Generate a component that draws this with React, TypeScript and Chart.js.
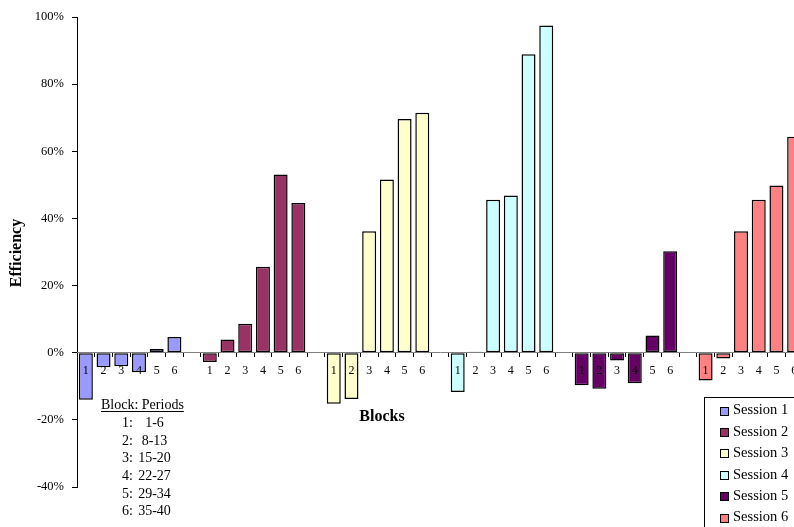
import React, { useEffect, useRef } from 'react';
import { Chart, registerables } from 'chart.js';

Chart.register(...registerables);

const blockLabels = ['1', '2', '3', '4', '5', '6'];
const sessionNames = ['Session 1', 'Session 2', 'Session 3', 'Session 4', 'Session 5', 'Session 6'];
const sessionColors = ['#9999FF', '#993366', '#FFFFCC', '#CCFFFF', '#660066', '#FF8080'];

// Efficiency (%) per block
const session1 = [-14.0, -4.3, -4.0, -5.8, 1.1, 4.7];
const session2 = [-2.8, 3.9, 8.6, 25.6, 53.1, 44.6];
const session3 = [-15.2, -13.8, 36.2, 51.6, 69.6, 71.5];
const session4 = [-11.7, 0.3, 45.6, 46.8, 88.9, 97.5];
const session5 = [-9.7, -10.7, -2.3, -9.1, 5.1, 30.2];
const session6 = [-8.3, -1.7, 36.2, 45.6, 49.8, 64.3];

const yTicks = [-40, -20, 0, 20, 40, 60, 80, 100];

const periodBlocks = ['1:', '2:', '3:', '4:', '5:', '6:'];
const periodRanges = ['1-6', '8-13', '15-20', '22-27', '29-34', '35-40'];

const FONT = "'Liberation Serif', 'Times New Roman', serif";

export default function App() {
  const canvasRef = useRef<HTMLCanvasElement | null>(null);

  useEffect(() => {
    const canvas = canvasRef.current;
    if (!canvas) return;
    const sessions = [session1, session2, session3, session4, session5, session6];
    const labels: string[] = [];
    sessions.forEach((_, s) => {
      blockLabels.forEach((b) => labels.push(b));
      if (s < sessions.length - 1) labels.push('');
    });
    const total = labels.length;
    const datasets = sessions.map((vals, s) => {
      const data: (number | null)[] = new Array(total).fill(null);
      vals.forEach((v, j) => {
        data[s * 7 + j] = v;
      });
      return {
        label: sessionNames[s],
        data,
        backgroundColor: sessionColors[s],
        borderColor: '#000000',
        borderWidth: 1.5,
        borderSkipped: false as const,
        grouped: false,
        barPercentage: 0.79,
        categoryPercentage: 1,
      };
    });

    const overlay = {
      id: 'overlay',
      afterDraw(chart: any) {
        const ctx = chart.ctx as CanvasRenderingContext2D;
        ctx.save();
        ctx.fillStyle = '#000';
        // Y title
        ctx.font = `bold 16px ${FONT}`;
        ctx.textAlign = 'center';
        ctx.textBaseline = 'middle';
        ctx.save();
        ctx.translate(17, 253);
        ctx.rotate(-Math.PI / 2);
        ctx.fillText('Efficiency', 0, 0);
        ctx.restore();
        // X title
        ctx.fillText('Blocks', 382, 417);

        // Block periods table
        ctx.font = `14px ${FONT}`;
        ctx.textAlign = 'left';
        ctx.fillText('Block: Periods', 101, 405);
        ctx.strokeStyle = '#000';
        ctx.lineWidth = 1;
        ctx.beginPath();
        const w = ctx.measureText('Block: Periods').width;
        ctx.moveTo(101, 411.5);
        ctx.lineTo(101 + w, 411.5);
        ctx.stroke();
        periodBlocks.forEach((b, i) => {
          const y = 423.5 + i * 17.6;
          ctx.textAlign = 'right';
          ctx.fillText(b, 133, y);
          ctx.textAlign = 'center';
          ctx.fillText(periodRanges[i], 154.5, y);
        });

        // Legend box
        ctx.fillStyle = '#fff';
        ctx.fillRect(704, 397, 120, 150);
        ctx.strokeStyle = '#000';
        ctx.strokeRect(704.5, 397.5, 120, 150);
        ctx.font = `14.5px ${FONT}`;
        ctx.textAlign = 'left';
        sessionNames.forEach((name, i) => {
          const y = 410.5 + i * 21.4;
          ctx.fillStyle = sessionColors[i];
          ctx.fillRect(720, Math.round(y) - 4, 9, 9);
          ctx.strokeStyle = '#000';
          ctx.strokeRect(720.5, Math.round(y) - 3.5, 8, 8);
          ctx.fillStyle = '#000';
          ctx.fillText(name, 733, y);
        });
        ctx.restore();
      },
    };

    const chart = new Chart(canvas, {
      type: 'bar',
      data: { labels, datasets },
      options: {
        responsive: false,
        animation: false,
        layout: { padding: { top: 17, bottom: 40, left: 0, right: 7 } },
        plugins: {
          legend: { display: false },
          tooltip: { enabled: false },
          title: { display: false },
        },
        scales: {
          x: {
            type: 'category',
            position: { y: 0 } as any,
            offset: true,
            grid: {
              offset: true,
              drawOnChartArea: false,
              drawTicks: true,
              tickLength: 4,
              tickColor: '#000000',
              z: 1,
            },
            border: { display: true, color: '#808080', width: 1, z: 1 },
            ticks: {
              autoSkip: false,
              maxRotation: 0,
              minRotation: 0,
              padding: 7,
              color: '#000000',
              z: 1,
              font: { family: FONT, size: 12 },
            },
          },
          y: {
            min: -40,
            max: 100,
            afterFit: (scale: any) => {
              scale.width = 77;
            },
            afterBuildTicks: (scale: any) => {
              scale.ticks = yTicks.map((v) => ({ value: v }));
            },
            grid: {
              drawOnChartArea: false,
              drawTicks: true,
              tickLength: 5,
              tickColor: '#000000',
            },
            border: { display: true, color: '#000000', width: 1 },
            ticks: {
              padding: 8,
              color: '#000000',
              font: { family: FONT, size: 12.5 },
              callback: (v: any) => `${v}%`,
            },
          },
        },
      },
      plugins: [overlay],
    } as any);

    return () => chart.destroy();
  }, []);

  return (
    <div
      style={{
        position: 'fixed',
        left: 0,
        top: 0,
        width: 794,
        height: 527,
        overflow: 'hidden',
        background: '#fff',
      }}
    >
      <canvas ref={canvasRef} width={810} height={527} style={{ display: 'block' }} />
    </div>
  );
}
